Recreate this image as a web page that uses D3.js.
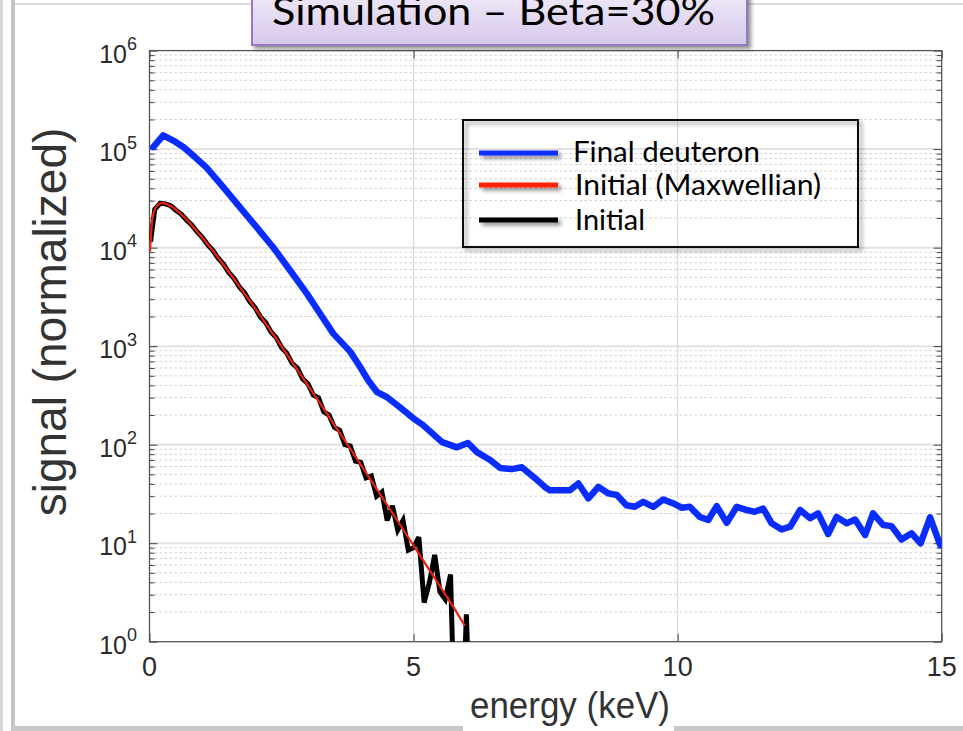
<!DOCTYPE html>
<html>
<head>
<meta charset="utf-8">
<script src="https://cdn.jsdelivr.net/npm/d3@7"></script>
<style>
  html, body { margin: 0; padding: 0; background: #fff; }
  svg { display: block; }
</style>
</head>
<body>
<svg id="chart" width="963" height="731"></svg>
<script>
// ---- data -------------------------------------------------------------
// Final deuteron spectrum (energy in keV, normalized signal)
const energyFinal = [0.07,0.26,0.45,0.64,0.85,1.08,1.4,1.71,2.0,2.34,
  2.65,2.98,3.25,3.48,3.8,4.0,4.14,4.31,4.50,4.74,
  4.99,5.18,5.54,5.82,6.03,6.20,6.45,6.64,6.86,7.05,
  7.30,7.49,7.58,7.96,8.12,8.31,8.50,8.69,8.85,9.03,
  9.19,9.35,9.54,9.73,9.92,10.08,10.23,10.42,10.58,10.74,
  10.93,11.12,11.31,11.46,11.62,11.78,11.97,12.13,12.32,12.51,
  12.66,12.85,13.01,13.20,13.36,13.55,13.70,13.89,14.05,14.24,
  14.43,14.60,14.78,14.97];
const signalFinal = [1.05e5,1.38e5,1.22e5,1.05e5,8.4e4,6.5e4,4.1e4,2.58e4,1.68e4,1.01e4,
  6.0e3,3.41e3,2.06e3,1.34e3,880,600,451,341,303,240,
  186,158,106,94,104,84,70,58,56.5,59,
  45.7,37,34.5,34.5,40.4,28.5,37.3,32,30.8,24.3,
  23.4,26.3,23.4,27.8,25.3,22.9,23.4,18.5,17.2,23.8,
  16.1,23.4,21.7,20.8,22.5,15.9,13.8,14.7,21.7,17.9,
  20.1,12.4,18.5,15.9,17.4,12.1,20.1,15.3,14.9,10.9,
  12.6,9.95,18.3,9.6];

// Initial distribution, Maxwellian reference
const energyMaxwell = [0.01,0.05,0.1,0.15,0.2,0.25,0.3,0.4,0.5,0.6,0.7,0.8,0.9,1.0,
  1.2,1.4,1.6,1.8,2.0,2.25,2.5,2.75,3.0,3.25,3.5,3.75,4.0,4.25,4.5,4.75,
  5.0,5.25,5.5,5.75,5.97];
const signalMaxwell = [9.1e3,1.89e4,2.42e4,2.68e4,2.8e4,2.83e4,2.8e4,2.65e4,2.43e4,2.18e4,
  1.93e4,1.69e4,1.46e4,1.26e4,9.3e3,6.7e3,4.8e3,3.4e3,2.42e3,1555,
  994,632,400,253,159,99.9,62.6,39.1,24.4,15.2,
  9.47,5.89,3.65,2.27,1.45];

// Initial distribution, sampled (zero counts fall below the axis)
const energyInitial = [0.02,0.1,0.2,0.3,0.4,0.5,0.6,0.7,0.8,0.9,
  1.0,1.1,1.2,1.3,1.4,1.5,1.6,1.7,1.8,1.9,
  2.0,2.1,2.2,2.3,2.4,2.5,2.6,2.7,2.8,2.9,
  3.0,3.1,3.2,3.3,3.4,3.5,3.6,3.7,3.8,3.9,
  4.0,4.1,4.2,4.3,4.4,4.5,4.6,4.7,4.8,4.9,
  5.0,5.1,5.2,5.3,5.4,5.5,5.6,5.7,5.8,5.9,
  6.0,6.1];
const signalInitial = [1.15e4,2.45e4,2.82e4,2.78e4,2.67e4,2.40e4,2.19e4,1.91e4,1.70e4,1.45e4,
  1.27e4,1.07e4,9400,7800,6800,5600,4880,4000,3480,2820,
  2460,1980,1740,1390,1220,970,850,670,600,465,
  415,320,300,215,200,150,140,100,97,68,
  66,46,48,30,33,17,24,13.6,17,8.5,
  9,11.5,2.5,4.0,7.6,3.2,2.7,4.8,0,0,
  1.9,0];

const xTicks = [0, 5, 10, 15];
const yExponents = [0, 1, 2, 3, 4, 5, 6];
const legendLabels = ["Final deuteron", "Initial (Maxwellian)", "Initial"];
const seriesColors = ["#0a2dff", "#ff2200", "#000000"];
const titleText = "Simulation \u2013 Beta=30%";
const xLabel = "energy (keV)";
const yLabel = "signal (normalized)";

// ---- layout -----------------------------------------------------------
const W = 963, H = 731;
const plot = { left: 149.5, right: 941.7, top: 50.6, bottom: 641.7 };

const svg = d3.select("#chart");
const x = d3.scaleLinear().domain([0, 15]).range([plot.left, plot.right]);
const y = d3.scaleLog().domain([1, 1e6]).range([plot.bottom, plot.top]);

const defs = svg.append("defs");
const shadow = defs.append("filter").attr("id", "shadow")
  .attr("filterUnits", "userSpaceOnUse")
  .attr("x", 0).attr("y", -20).attr("width", W).attr("height", H + 20);
shadow.append("feGaussianBlur").attr("in", "SourceAlpha").attr("stdDeviation", 2);
shadow.append("feOffset").attr("dx", 3).attr("dy", 3).attr("result", "off");
shadow.append("feComponentTransfer").append("feFuncA").attr("type", "linear").attr("slope", 0.45);
const merge = shadow.append("feMerge");
merge.append("feMergeNode");
merge.append("feMergeNode").attr("in", "SourceGraphic");

const titleGrad = defs.append("linearGradient").attr("id", "titleGrad")
  .attr("x1", 0).attr("y1", 0).attr("x2", 0).attr("y2", 1);
titleGrad.append("stop").attr("offset", "0%").attr("stop-color", "#f1ecf8");
titleGrad.append("stop").attr("offset", "100%").attr("stop-color", "#d7c8ec");

defs.append("clipPath").attr("id", "plotClip").append("rect")
  .attr("x", plot.left).attr("y", plot.top)
  .attr("width", plot.right - plot.left).attr("height", plot.bottom - plot.top);

// ---- window frame -------------------------------------------------------
svg.append("rect").attr("x", 0).attr("y", 0).attr("width", 3).attr("height", H).attr("fill", "#d6d6d6");
svg.append("rect").attr("x", 11).attr("y", 0).attr("width", 4).attr("height", H - 4).attr("fill", "#c4c4c4");
svg.append("rect").attr("x", 15).attr("y", 3).attr("width", W - 15).attr("height", 2).attr("fill", "#dcdcdc");
svg.append("rect").attr("x", 11).attr("y", H - 5).attr("width", W - 11).attr("height", 5).attr("fill", "#c8c8c8");

// ---- grid ---------------------------------------------------------------
const grid = svg.append("g");
const minorValues = [];
yExponents.slice(0, -1).forEach(e => {
  for (let k = 2; k <= 9; k++) minorValues.push(k * Math.pow(10, e));
});
grid.selectAll("line.minor").data(minorValues).join("line")
  .attr("x1", plot.left).attr("x2", plot.right)
  .attr("y1", d => y(d)).attr("y2", d => y(d))
  .attr("stroke", "#cfcfcf").attr("stroke-width", 1).attr("stroke-dasharray", "2.5,2.5");
grid.selectAll("line.major").data(yExponents.slice(1, -1)).join("line")
  .attr("x1", plot.left).attr("x2", plot.right)
  .attr("y1", d => y(Math.pow(10, d))).attr("y2", d => y(Math.pow(10, d)))
  .attr("stroke", "#e2e2e2").attr("stroke-width", 2);
grid.selectAll("line.vx").data(xTicks.slice(1, -1)).join("line")
  .attr("x1", d => x(d)).attr("x2", d => x(d))
  .attr("y1", plot.top).attr("y2", plot.bottom)
  .attr("stroke", "#dadada").attr("stroke-width", 1.2);

// ---- axes (inward ticks on all four sides) -------------------------------
const majorValues = yExponents.map(e => Math.pow(10, e));
function axisGroup(axis, tx, ty) {
  const g = svg.append("g").attr("transform", `translate(${tx},${ty})`).call(axis);
  g.select(".domain").remove();
  g.selectAll("text").remove();
  g.selectAll("line").attr("stroke", "#444").attr("stroke-width", 1);
  return g;
}
axisGroup(d3.axisLeft(y).tickValues(majorValues).tickSize(-8), plot.left, 0);
axisGroup(d3.axisLeft(y).tickValues(minorValues).tickSize(-5), plot.left, 0);
axisGroup(d3.axisRight(y).tickValues(majorValues).tickSize(-8), plot.right, 0);
axisGroup(d3.axisRight(y).tickValues(minorValues).tickSize(-5), plot.right, 0);
axisGroup(d3.axisBottom(x).tickValues(xTicks).tickSize(-8), 0, plot.bottom);
axisGroup(d3.axisTop(x).tickValues(xTicks).tickSize(-8), 0, plot.top);

svg.append("rect")
  .attr("x", plot.left).attr("y", plot.top)
  .attr("width", plot.right - plot.left).attr("height", plot.bottom - plot.top)
  .attr("fill", "none").attr("stroke", "#555").attr("stroke-width", 1.3);

// ---- tick labels --------------------------------------------------------
const tickColor = "#2b2b2b";
const yLab = svg.append("g").attr("font-family", "'Liberation Sans', Arial, Helvetica, sans-serif")
  .attr("fill", tickColor);
yExponents.forEach(e => {
  const t = yLab.append("text")
    .attr("x", 137).attr("y", y(Math.pow(10, e)) + 12)
    .attr("text-anchor", "end");
  t.append("tspan").attr("font-size", 25).text("10");
  t.append("tspan").attr("font-size", 18).attr("dy", -12.5).text(String(e));
});
svg.append("g").selectAll("text").data(xTicks).join("text")
  .attr("x", d => x(d)).attr("y", plot.bottom + 34)
  .attr("text-anchor", "middle")
  .attr("font-family", "'Liberation Sans', Arial, Helvetica, sans-serif")
  .attr("font-size", 27).attr("fill", tickColor)
  .text(d => String(d));

// ---- axis titles --------------------------------------------------------
svg.append("text")
  .attr("transform", `translate(66,322) rotate(-90)`)
  .attr("text-anchor", "middle")
  .attr("font-family", "'Liberation Sans', Arial, Helvetica, sans-serif")
  .attr("font-size", 46).attr("fill", "#333")
  .text(yLabel);

svg.append("rect").attr("x", 463).attr("y", 686).attr("width", 211).attr("height", H - 686).attr("fill", "#fff");
svg.append("text")
  .attr("x", 570).attr("y", 718)
  .attr("text-anchor", "middle")
  .attr("font-family", "'Liberation Sans', Arial, Helvetica, sans-serif")
  .attr("font-size", 36).attr("fill", "#333")
  .attr("textLength", 200).attr("lengthAdjust", "spacingAndGlyphs")
  .text(xLabel);

// ---- curves -------------------------------------------------------------
const floor = 0.05; // zero counts are drawn below the axis and clipped
const line = d3.line()
  .x(d => x(d[0]))
  .y(d => y(Math.max(d[1], floor)));
const curves = svg.append("g").attr("clip-path", "url(#plotClip)");

curves.append("path")
  .datum(d3.zip(energyFinal, signalFinal))
  .attr("d", line).attr("fill", "none")
  .attr("stroke", seriesColors[0]).attr("stroke-width", 6.5)
  .attr("stroke-linejoin", "round").attr("stroke-linecap", "round");

curves.append("path")
  .datum(d3.zip(energyInitial, signalInitial))
  .attr("d", line).attr("fill", "none")
  .attr("stroke", seriesColors[2]).attr("stroke-width", 5)
  .attr("stroke-linejoin", "miter").attr("stroke-miterlimit", 3);

curves.append("path")
  .datum(d3.zip(energyMaxwell, signalMaxwell))
  .attr("d", line.curve(d3.curveMonotoneX)).attr("fill", "none")
  .attr("stroke", "#f0200c").attr("stroke-width", 2.2)
  .attr("stroke-linejoin", "round");

// ---- legend -------------------------------------------------------------
const legend = svg.append("g");
legend.append("rect")
  .attr("x", 463).attr("y", 120).attr("width", 395).attr("height", 127)
  .attr("fill", "none").attr("stroke", "#111").attr("stroke-width", 2)
  .attr("filter", "url(#shadow)");
const rows = [
  { y: 153, ty: 162, tx: 573, len: 187 },
  { y: 185, ty: 195, tx: 575, len: 246 },
  { y: 220, ty: 230, tx: 575, len: 70 }
];
rows.forEach((r, i) => {
  legend.append("rect")
    .attr("x", 479).attr("y", r.y - 2.5).attr("width", 79).attr("height", 5)
    .attr("fill", seriesColors[i])
    .attr("filter", "url(#shadow)");
  legend.append("text")
    .attr("x", r.tx).attr("y", r.ty)
    .attr("font-family", "Lato, 'Open Sans', sans-serif")
    .attr("font-size", 28).attr("fill", "#000")
    .attr("textLength", r.len).attr("lengthAdjust", "spacingAndGlyphs")
    .text(legendLabels[i]);
});

// ---- title banner -------------------------------------------------------
const banner = svg.append("g");
banner.append("rect")
  .attr("x", 252).attr("y", -12).attr("width", 495).attr("height", 57)
  .attr("fill", "url(#titleGrad)").attr("stroke", "#9479c0").attr("stroke-width", 2)
  .attr("filter", "url(#shadow)");
banner.append("text")
  .attr("x", 272).attr("y", 25)
  .attr("font-family", "Lato, 'Open Sans', sans-serif")
  .attr("font-size", 39).attr("fill", "#000")
  .attr("textLength", 443).attr("lengthAdjust", "spacingAndGlyphs")
  .text(titleText);
</script>
</body>
</html>
